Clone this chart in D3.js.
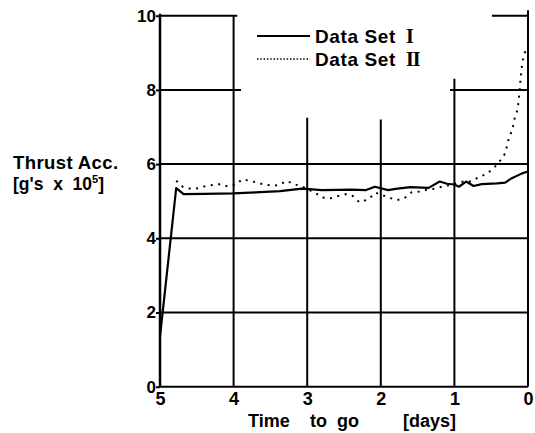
<!DOCTYPE html>
<html>
<head>
<meta charset="utf-8">
<script src="https://cdn.jsdelivr.net/npm/d3@7"></script>
<style>
  body { margin: 0; background: #fff; }
  svg { display: block; }
  text { font-family: "Liberation Sans", Arial, sans-serif; font-weight: bold; fill: #000; }
</style>
</head>
<body>
<div id="chart"></div>
<script>
// days to go (x) and thrust acceleration in g's x 10^5 (y)
const xTicks = [5, 4, 3, 2, 1, 0];
const yTicks = [0, 2, 4, 6, 8, 10];

const setIDays = [5, 4.78, 4.68, 4.4, 4.0, 3.7, 3.37, 3.07, 2.8, 2.4, 2.2, 2.08, 1.9, 1.8, 1.6, 1.35, 1.2, 1.1, 1.0, 0.94, 0.84, 0.74, 0.63, 0.42, 0.31, 0.22, 0.08, 0];
const setIValues = [1.35, 5.35, 5.19, 5.2, 5.21, 5.24, 5.27, 5.34, 5.3, 5.31, 5.3, 5.39, 5.3, 5.33, 5.38, 5.36, 5.53, 5.47, 5.45, 5.39, 5.53, 5.41, 5.46, 5.48, 5.5, 5.62, 5.75, 5.8];

const setIIDays = [4.78, 4.69, 4.57, 4.48, 4.38, 4.28, 4.18, 4.08, 3.98, 3.88, 3.78, 3.68, 3.57, 3.46, 3.38, 3.28, 3.18, 3.07, 2.88, 2.79, 2.68, 2.58, 2.47, 2.38, 2.29, 2.17, 2.07, 1.88, 1.78, 1.68, 1.58, 1.48, 1.39, 1.29, 1.17, 1.03, 0.88, 0.77, 0.68, 0.57, 0.48, 0.39, 0.31, 0.26, 0.22, 0.2, 0.18, 0.14, 0.12, 0.1, 0.08, 0.05, 0.01];
const setIIValues = [5.55, 5.39, 5.33, 5.35, 5.41, 5.44, 5.46, 5.4, 5.44, 5.59, 5.55, 5.5, 5.44, 5.42, 5.44, 5.55, 5.46, 5.4, 5.21, 5.1, 5.08, 5.14, 5.19, 5.14, 4.97, 5.05, 5.23, 5.09, 5.03, 5.08, 5.24, 5.26, 5.3, 5.33, 5.39, 5.45, 5.53, 5.53, 5.64, 5.73, 5.86, 6.06, 6.29, 6.7, 6.89, 7.05, 7.25, 7.48, 7.86, 8.31, 8.69, 8.99, 9.1];

const legendLabels = ["Data Set", "Data Set"];
const legendNumerals = ["I", "II"];
const xTitleWords = ["Time", "to", "go", "[days]"];

// grid segments as drawn on the original sheet: [value, from, to]
const hGrid = [[10, 5, 3.95], [10, 0.49, 0], [8, 5, 3.9], [8, 1.06, 0], [6, 5, 0], [4, 5, 0], [2, 5, 0], [0, 5, 0]];
const vGrid = [[5, 0, 10.05], [4, 0, 10], [3, 0, 7.25], [2, 0, 7.2], [1, 0, 8.3], [0, 0, 10.15]];

const width = 535, height = 433;
const svg = d3.select("#chart").append("svg")
  .attr("width", width)
  .attr("height", height);

const x = d3.scaleLinear().domain([5, 0]).range([160, 528]);
const y = d3.scaleLinear().domain([0, 10]).range([386.7, 15.7]);

// grid
svg.append("g")
  .selectAll("line")
  .data(hGrid)
  .enter()
  .append("line")
  .attr("x1", (d) => x(d[1]))
  .attr("x2", (d) => x(d[2]))
  .attr("y1", (d) => y(d[0]))
  .attr("y2", (d) => y(d[0]))
  .attr("stroke", "#000")
  .attr("stroke-width", 2);

svg.append("g")
  .selectAll("line")
  .data(vGrid)
  .enter()
  .append("line")
  .attr("x1", (d) => x(d[0]))
  .attr("x2", (d) => x(d[0]))
  .attr("y1", (d) => y(d[1]))
  .attr("y2", (d) => y(d[2]))
  .attr("stroke", "#000")
  .attr("stroke-width", (d) => (d[0] == 5 ? 2.5 : 2));

// axes (labels only, lines come from the grid)
const xAxis = svg.append("g")
  .attr("transform", `translate(0,${y(0)})`)
  .call(d3.axisBottom(x).tickValues(xTicks).tickFormat(d3.format("d")).tickSize(0).tickPadding(6));
xAxis.select(".domain").remove();
xAxis.selectAll("text").style("font-size", "18px").attr("fill", "#000");

const yAxis = svg.append("g")
  .attr("transform", `translate(${x(5)},0)`)
  .call(d3.axisLeft(y).tickValues(yTicks).tickFormat(d3.format("d")).tickSize(4).tickPadding(0));
yAxis.select(".domain").remove();
yAxis.selectAll("line").attr("stroke", "#000").attr("stroke-width", 2);
yAxis.selectAll("text").style("font-size", "17px").attr("fill", "#000");

// series
const line = d3.line()
  .x((d) => x(d[0]))
  .y((d) => y(d[1]));

svg.append("path")
  .datum(setIDays.map((d, i) => [d, setIValues[i]]))
  .attr("d", line)
  .attr("fill", "none")
  .attr("stroke", "#000")
  .attr("stroke-width", 2.2)
  .attr("stroke-linejoin", "round");

svg.append("path")
  .datum(setIIDays.map((d, i) => [d, setIIValues[i]]))
  .attr("d", line)
  .attr("fill", "none")
  .attr("stroke", "#000")
  .attr("stroke-width", 2)
  .attr("stroke-dasharray", "2,5.5");

// legend
const legend = svg.append("g");
legendLabels.forEach((label, i) => {
  const ly = 36 + i * 23;
  legend.append("line")
    .attr("x1", 257)
    .attr("x2", 310)
    .attr("y1", ly)
    .attr("y2", ly)
    .attr("stroke", "#000")
    .attr("stroke-width", i == 0 ? 2 : 1.5)
    .attr("stroke-dasharray", i == 0 ? null : "1.5,1.8");
  legend.append("text")
    .attr("x", 315)
    .attr("y", ly + 7)
    .style("font-size", "19px")
    .style("letter-spacing", "0.6px")
    .text(label);
  legend.append("text")
    .attr("x", 406)
    .attr("y", ly + 7)
    .style("font-family", "'Liberation Serif', 'Times New Roman', serif")
    .style("font-size", "20px")
    .style("letter-spacing", "-1px")
    .text(legendNumerals[i]);
});

// axis titles
svg.append("text")
  .attr("x", 13)
  .attr("y", 169)
  .style("font-size", "18.5px")
  .style("letter-spacing", "0.4px")
  .text("Thrust Acc.");
const yTitle2 = svg.append("text")
  .attr("x", 13)
  .attr("y", 190)
  .style("font-size", "17.5px")
  .style("white-space", "pre");
yTitle2.append("tspan").text("[g's  x  10");
yTitle2.append("tspan").attr("dy", -7).style("font-size", "11px").text("5");
yTitle2.append("tspan").attr("dy", 7).text("]");

const xTitleX = [248, 310, 337, 403];
svg.append("g")
  .selectAll("text")
  .data(xTitleWords)
  .enter()
  .append("text")
  .attr("x", (d, i) => xTitleX[i])
  .attr("y", 427)
  .style("font-size", "18px")
  .text((d) => d);
</script>
</body>
</html>
